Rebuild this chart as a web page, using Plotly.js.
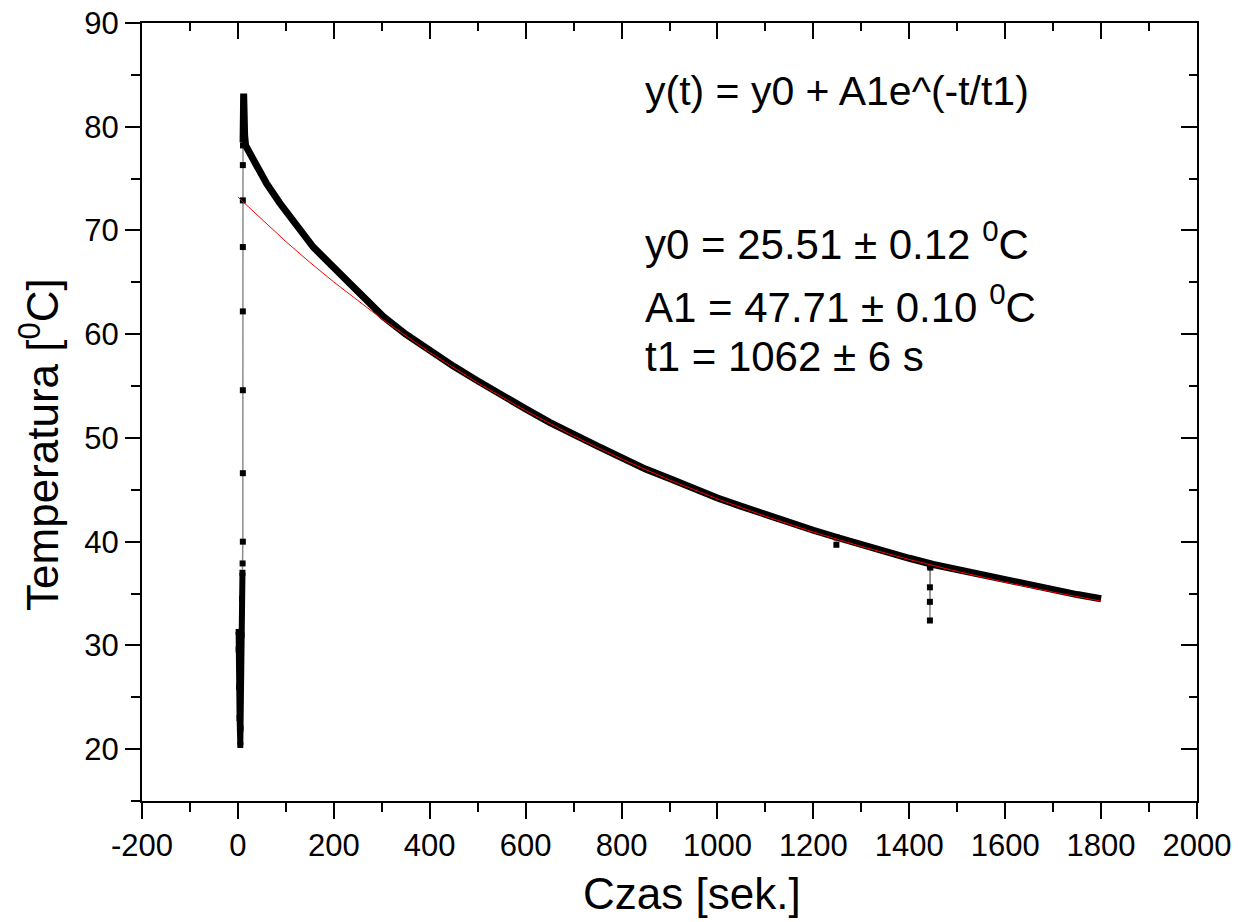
<!DOCTYPE html>
<html>
<head>
<meta charset="utf-8">
<script src="https://cdn.plot.ly/plotly-3.0.1.min.js"></script>
<style>html,body{margin:0;padding:0;background:#fff;}#chart{width:1238px;height:922px;}</style>
</head>
<body>
<div id="chart"></div>
<script>
// Noisy start (before heating jump)
var barT = [1.5, 1.5, 2.5, 3.5, 5, 5.5, 6.5, 7.5, 8.5, 9.5];
var barY = [31.3, 29.6, 26.0, 23.0, 20.4, 22.0, 27.0, 31.0, 34.5, 37.0];
// Sparse points of the fast rise
var jumpT = [9.8, 10.3, 10.3, 10.3, 10.3, 10.3, 10.3, 10.3, 10.6];
var jumpY = [37.9, 40.0, 46.6, 54.6, 62.2, 68.4, 72.9, 76.3, 78.2];
// Cooling curve (dense measurement band)
var coolT = [10.8, 11.5, 12, 13, 14, 16, 25, 39, 60, 88, 122, 157, 192, 227, 261, 303, 350, 400, 450, 500, 550, 600, 650, 700, 750, 800, 850, 900, 950, 1000, 1050, 1100, 1150, 1200, 1250, 1300, 1350, 1400, 1450, 1500, 1550, 1600, 1650, 1700, 1750, 1800];
var coolY = [78.5, 81.0, 83.2, 81.0, 79.2, 78.2, 77.4, 76.5, 74.5, 72.6, 70.4, 68.4, 66.8, 65.2, 63.6, 61.7, 60.0, 58.4, 56.9, 55.5, 54.1, 52.8, 51.5, 50.3, 49.2, 48.1, 47.0, 46.1, 45.1, 44.2, 43.4, 42.6, 41.8, 41.1, 40.4, 39.7, 39.0, 38.4, 37.8, 37.3, 36.8, 36.3, 35.8, 35.3, 34.9, 34.5];
// Single outlier readings
var dip1T = [1248, 1248.5];
var dip1Y = [39.7, 40.4];
var dip2T = [1443, 1443, 1443, 1443, 1444];
var dip2Y = [37.6, 35.6, 34.2, 32.4, 37.5];
// Fitted curve y0 + A1 exp(-t/t1)
var fitT = [0, 50, 100, 150, 200, 300, 400, 500, 600, 700, 800, 900, 1000, 1100, 1200, 1300, 1400, 1500, 1600, 1700, 1800];
var fitY = [73.22, 71.03, 68.93, 66.93, 65.03, 61.48, 58.25, 55.31, 52.63, 50.19, 47.97, 45.95, 44.12, 42.45, 40.92, 39.54, 38.28, 37.13, 36.09, 35.14, 34.27];

var xTicks = [-200, 0, 200, 400, 600, 800, 1000, 1200, 1400, 1600, 1800, 2000];
var yTicks = [20, 30, 40, 50, 60, 70, 80, 90];

var FONT = 'Liberation Sans, Arial, sans-serif';
var gray = '#8c8c8c';
var sq = {symbol: 'square', size: 6, color: '#000'};

var traces = [
  {x: barT.concat(jumpT), y: barY.concat(jumpY), mode: 'lines', line: {color: gray, width: 1.5}, hoverinfo: 'skip', showlegend: false},
  {x: barT, y: barY, mode: 'lines+markers', line: {color: '#000', width: 6}, marker: sq, showlegend: false},
  {x: jumpT, y: jumpY, mode: 'markers', marker: sq, showlegend: false},
  {x: coolT, y: coolY, mode: 'lines', line: {color: '#000', width: 7}, showlegend: false},
  {x: dip1T, y: dip1Y, mode: 'lines+markers', line: {color: gray, width: 1.5}, marker: sq, showlegend: false},
  {x: dip2T, y: dip2Y, mode: 'lines+markers', line: {color: gray, width: 1.5}, marker: sq, showlegend: false},
  {x: fitT, y: fitY, mode: 'lines', line: {color: '#ff0000', width: 1}, showlegend: false},
  {x: fitT, y: fitY, xaxis: 'x2', yaxis: 'y2', mode: 'lines', line: {color: 'rgba(0,0,0,0)', width: 0}, hoverinfo: 'skip', showlegend: false}
];

var axBase = {showgrid: false, zeroline: false, showline: true, linecolor: '#000', linewidth: 2, tickcolor: '#000', tickwidth: 2};

var layout = {
  width: 1238, height: 922,
  margin: {l: 142, r: 41, t: 23, b: 121},
  paper_bgcolor: '#fff', plot_bgcolor: '#fff',
  font: {family: FONT, color: '#000'},
  xaxis: Object.assign({}, axBase, {
    range: [-200, 2000], tickmode: 'array', tickvals: xTicks, ticktext: xTicks.map(String),
    ticks: 'outside', ticklen: 16, tickfont: {size: 31, family: FONT},
    minor: {dtick: 100, tick0: 0, ticks: 'outside', ticklen: 9, tickwidth: 2, tickcolor: '#000'}
  }),
  yaxis: Object.assign({}, axBase, {
    range: [15, 90], tickmode: 'array', tickvals: yTicks, ticktext: yTicks.map(String),
    ticks: 'outside', ticklen: 15, tickfont: {size: 31, family: FONT},
    minor: {dtick: 5, tick0: 0, ticks: 'outside', ticklen: 9, tickwidth: 2, tickcolor: '#000'}
  }),
  xaxis2: Object.assign({}, axBase, {
    overlaying: 'x', side: 'top', anchor: 'y2', range: [-200, 2000], tickmode: 'array', tickvals: xTicks,
    ticks: 'inside', ticklen: 16, showticklabels: false,
    minor: {dtick: 100, tick0: 0, ticks: 'inside', ticklen: 8, tickwidth: 2, tickcolor: '#000'}
  }),
  yaxis2: Object.assign({}, axBase, {
    overlaying: 'y', side: 'right', anchor: 'x2', range: [15, 90], tickmode: 'array', tickvals: yTicks,
    ticks: 'inside', ticklen: 16, showticklabels: false,
    minor: {dtick: 5, tick0: 0, ticks: 'inside', ticklen: 8, tickwidth: 2, tickcolor: '#000'}
  }),
  annotations: [
    {xref: 'paper', yref: 'paper', x: 0.5213, y: -0.1183, xanchor: 'center', yanchor: 'middle', showarrow: false,
     text: 'Czas [sek.]', font: {size: 44, family: FONT, color: '#000'}},
    {xref: 'paper', yref: 'paper', x: -0.0967, y: 0.4589, xanchor: 'center', yanchor: 'middle', showarrow: false, textangle: -90,
     text: 'Temperatura [<sup>0</sup>C]', font: {size: 44, family: FONT, color: '#000'}},
    {xref: 'paper', yref: 'paper', x: 0.4749, y: 0.912, xanchor: 'left', yanchor: 'middle', showarrow: false,
     text: 'y(t) = y0 + A1e^(-t/t1)', font: {size: 41, family: FONT, color: '#000'}},
    {xref: 'paper', yref: 'paper', x: 0.4749, y: 0.7193, xanchor: 'left', yanchor: 'middle', showarrow: false,
     text: 'y0 = 25.51 ± 0.12 <sup>0</sup>C', font: {size: 42, family: FONT, color: '#000'}},
    {xref: 'paper', yref: 'paper', x: 0.4749, y: 0.6382, xanchor: 'left', yanchor: 'middle', showarrow: false,
     text: 'A1 = 47.71 ± 0.10 <sup>0</sup>C', font: {size: 42, family: FONT, color: '#000'}},
    {xref: 'paper', yref: 'paper', x: 0.4749, y: 0.5707, xanchor: 'left', yanchor: 'middle', showarrow: false,
     text: 't1 = 1062 ± 6 s', font: {size: 42, family: FONT, color: '#000'}}
  ]
};

Plotly.newPlot('chart', traces, layout, {displayModeBar: false, staticPlot: true});
</script>
</body>
</html>
